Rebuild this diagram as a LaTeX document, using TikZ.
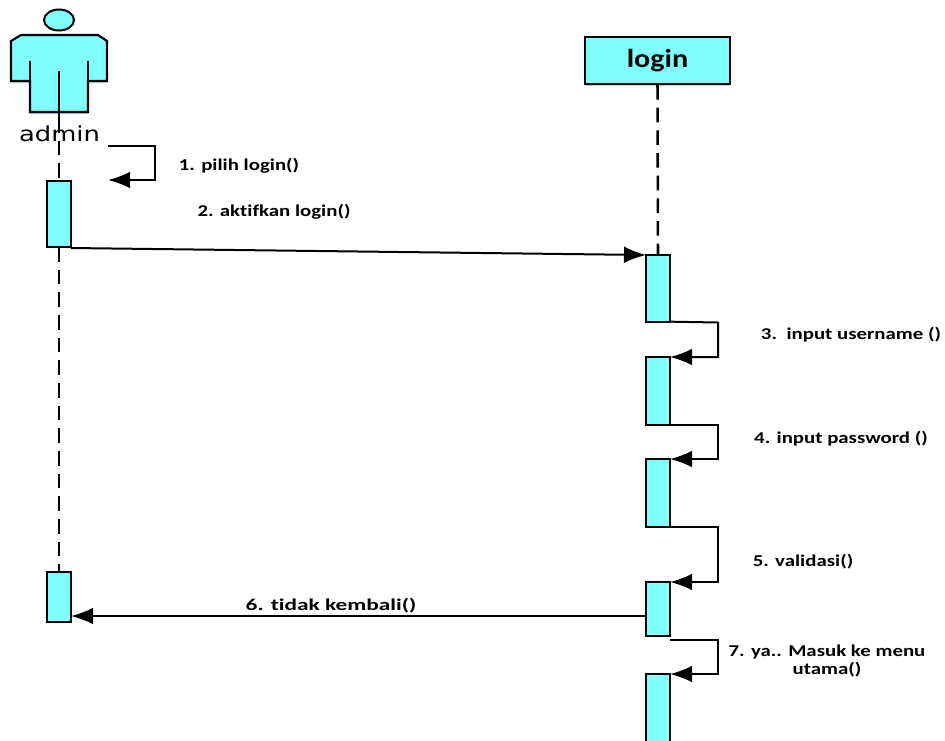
\documentclass[tikz,border=0pt]{standalone}
\usepackage{fontspec}
\setmainfont{Carlito}[Ligatures=NoCommon]
\newfontfamily\actorfont{DejaVu Sans}[FakeStretch=1.25]
\newfontfamily\lblfont{Carlito}[BoldFont={Carlito Bold},FakeStretch=1.26,Ligatures=NoCommon]
\newfontfamily\wideblfont{Carlito}[BoldFont={Carlito Bold},FakeStretch=1.41,Ligatures=NoCommon]
\newfontfamily\titlefont{Carlito}[BoldFont={Carlito Bold},FakeStretch=1.16,Ligatures=NoCommon]
\usetikzlibrary{arrows.meta,shadows}
\definecolor{boxcyan}{RGB}{128,255,255}
\tikzset{
  x=0.75pt,y=-0.75pt,
  lifeline/.style={line width=1.9pt,dash pattern=on 11pt off 6pt},
  msg/.style={line width=1.5pt,-{Latex[length=16.5pt,width=12.5pt,sharp]}},
  softshadow/.style={drop shadow={shadow xshift=0pt,shadow yshift=-1.6pt,opacity=.22,fill=blue!50!black}},
  actv/.style={draw=black,fill=boxcyan,line width=1.6pt,minimum width=18pt,inner sep=0pt,anchor=north,outer sep=0pt},
  objbox/.style={draw=black,fill=boxcyan,line width=1.8pt,minimum width=108.5pt,minimum height=35pt,inner sep=0pt,softshadow},
  lbl/.style={font=\lblfont\fontsize{12.4}{13.5}\selectfont\bfseries,inner sep=0pt,align=center}
}
\begin{document}
\begin{tikzpicture}
\useasboundingbox (0,0) rectangle (945,740);
% actor
\coordinate (linetop) at (59,71);
\coordinate (lineend) at (59,122);
\draw[line width=1.6pt,fill=boxcyan,softshadow] (11,41) -- (21,35) -- (98,35) -- (107,41) -- (107,81) -- (88,81) -- (88,112) -- (30,112) -- (30,81) -- (11,81) -- cycle;
\draw[fill=boxcyan,line width=1.5pt] (59,20) ellipse [x radius=15,y radius=10.5];
\node[font=\actorfont\fontsize{15.5}{18}\selectfont,inner sep=0pt] (admin) at (59.5,134) {admin};
% activations
\node[actv,minimum height=49.5pt] (a1) at (59,181) {};
\node[actv,minimum height=37.5pt] (a2) at (59,572) {};
\node[actv,minimum height=50pt] (l1) at (658,255) {};
\node[actv,minimum height=51pt] (l2) at (658,357) {};
\node[actv,minimum height=51pt] (l3) at (658,459) {};
\node[actv,minimum height=40.5pt] (l4) at (658,582) {};
\node[actv,minimum height=60pt] (l5) at (658,674) {};
\node[objbox] (login) at (657.5,60.5) {\raisebox{-5.4pt}[0pt][0pt]{\titlefont\fontsize{19.5}{22}\selectfont\bfseries login}};
% lifelines
\draw[line width=1.6pt] (linetop) -- (lineend);
\draw[line width=1.6pt] (30,61) -- (30,81) (88,61) -- (88,81);
\draw[lifeline,dash phase=3pt] (lineend) -- (a1.north);
\draw[lifeline] (a1.south) -- (a2.north);
\draw[lifeline] (login.south) -- (l1.north);
% messages
\coordinate (s1) at (108,146);
\coordinate (e1) at (108,180);
\draw[msg] (s1) -- (155,146) -- (155,180) -- (e1);
\draw[msg] (a1.south east) ++(0,1) -- (l1.north west);
\draw[msg] (l1.south east) -- (718,322.5) -- (718,357) -- (l2.north east);
\draw[msg] (l2.south east) -- (718,425) -- (718,459) -- (l3.north east);
\draw[msg] (l3.south east) -- (718,527) -- (718,582) -- (l4.north east);
\coordinate (s7) at (670,640);
\draw[msg] (s7) -- (718,640) -- (718,674) -- (l5.north east);
\coordinate (r6) at (646,616);
\draw[msg] (r6) -- (a2.east |- r6);
% labels
\node[lbl] (t1) at (239,166) {1. pilih login()};
\node[lbl] (t2) at (274,212) {2. aktifkan login()};
\node[lbl] (t3) at (851,335) {3.\ \ input username ()};
\node[lbl] (t4) at (841,439) {4. input password ()};
\node[lbl] (t5) at (803,562) {5. validasi()};
\node[lbl,font=\wideblfont\fontsize{12.4}{13.5}\selectfont\bfseries] (t6) at (331,606) {6. tidak kembali()};
\node[lbl] (t7) at (827,661) {7. ya.. Masuk ke menu\\utama()};
\end{tikzpicture}
\end{document}
